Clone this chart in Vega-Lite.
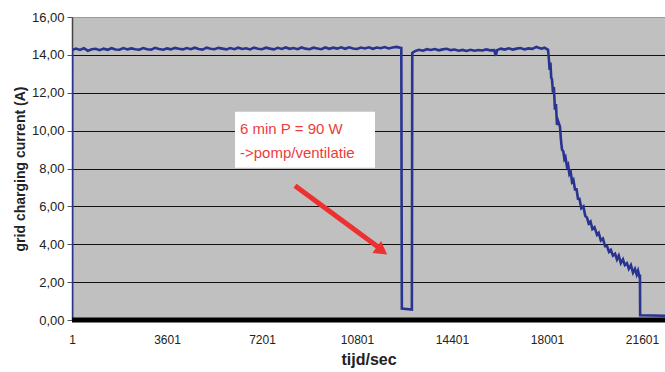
{
  "$schema": "https://vega.github.io/schema/vega-lite/v6.json",
  "width": 593,
  "height": 303,
  "autosize": {"type": "none"},
  "padding": {"left": 72, "top": 17, "right": 0, "bottom": 52},
  "background": "white",
  "config": {
    "font": "Liberation Sans",
    "view": {"fill": "#c0c0c0", "stroke": "#9a9a9a", "strokeWidth": 1},
    "locale": {"number": {"decimal": ",", "thousands": ".", "grouping": [3], "currency": ["€", ""]}}
  },
  "datasets": {
    "series": [
      {"t": 1, "a": 0}, {"t": 5, "a": 14.25}, {"t": 150, "a": 14.33}, {"t": 300, "a": 14.26}, {"t": 450, "a": 14.35}, {"t": 600, "a": 14.22}, {"t": 750, "a": 14.3}, {"t": 900, "a": 14.32},
      {"t": 1050, "a": 14.25}, {"t": 1200, "a": 14.33}, {"t": 1350, "a": 14.27}, {"t": 1500, "a": 14.35}, {"t": 1650, "a": 14.28}, {"t": 1800, "a": 14.27}, {"t": 1950, "a": 14.36}, {"t": 2100, "a": 14.29}, {"t": 2250, "a": 14.34}, {"t": 2400, "a": 14.3},
      {"t": 2550, "a": 14.27}, {"t": 2700, "a": 14.36}, {"t": 2850, "a": 14.3}, {"t": 3000, "a": 14.28}, {"t": 3150, "a": 14.37}, {"t": 3300, "a": 14.31}, {"t": 3450, "a": 14.27}, {"t": 3600, "a": 14.34}, {"t": 3750, "a": 14.29}, {"t": 3900, "a": 14.37},
      {"t": 4050, "a": 14.32}, {"t": 4200, "a": 14.29}, {"t": 4350, "a": 14.36}, {"t": 4500, "a": 14.3}, {"t": 4650, "a": 14.38}, {"t": 4800, "a": 14.31}, {"t": 4950, "a": 14.28}, {"t": 5100, "a": 14.38}, {"t": 5250, "a": 14.32}, {"t": 5400, "a": 14.3},
      {"t": 5550, "a": 14.37}, {"t": 5700, "a": 14.33}, {"t": 5850, "a": 14.29}, {"t": 6000, "a": 14.36}, {"t": 6150, "a": 14.3}, {"t": 6300, "a": 14.38}, {"t": 6450, "a": 14.31}, {"t": 6600, "a": 14.35}, {"t": 6750, "a": 14.29}, {"t": 6900, "a": 14.38},
      {"t": 7050, "a": 14.32}, {"t": 7200, "a": 14.3}, {"t": 7350, "a": 14.38}, {"t": 7500, "a": 14.33}, {"t": 7650, "a": 14.29}, {"t": 7800, "a": 14.37}, {"t": 7950, "a": 14.31}, {"t": 8100, "a": 14.39}, {"t": 8250, "a": 14.32}, {"t": 8400, "a": 14.36},
      {"t": 8550, "a": 14.3}, {"t": 8700, "a": 14.39}, {"t": 8850, "a": 14.33}, {"t": 9000, "a": 14.3}, {"t": 9150, "a": 14.38}, {"t": 9300, "a": 14.34}, {"t": 9450, "a": 14.3}, {"t": 9600, "a": 14.39}, {"t": 9750, "a": 14.32}, {"t": 9900, "a": 14.38},
      {"t": 10050, "a": 14.33}, {"t": 10200, "a": 14.4}, {"t": 10350, "a": 14.32}, {"t": 10500, "a": 14.4}, {"t": 10650, "a": 14.34}, {"t": 10800, "a": 14.31}, {"t": 10950, "a": 14.39}, {"t": 11100, "a": 14.34}, {"t": 11250, "a": 14.4}, {"t": 11400, "a": 14.32},
      {"t": 11550, "a": 14.39}, {"t": 11700, "a": 14.35}, {"t": 11850, "a": 14.41}, {"t": 12000, "a": 14.34}, {"t": 12150, "a": 14.39}, {"t": 12300, "a": 14.42}, {"t": 12480, "a": 14.36},
      {"t": 12500, "a": 0.6}, {"t": 12880, "a": 0.55}, {"t": 12895, "a": 14.1},
      {"t": 13000, "a": 14.2}, {"t": 13150, "a": 14.27}, {"t": 13300, "a": 14.22}, {"t": 13450, "a": 14.3}, {"t": 13600, "a": 14.26}, {"t": 13750, "a": 14.31}, {"t": 13900, "a": 14.24}, {"t": 14050, "a": 14.29}, {"t": 14200, "a": 14.32},
      {"t": 14350, "a": 14.25}, {"t": 14500, "a": 14.28}, {"t": 14650, "a": 14.22}, {"t": 14800, "a": 14.26}, {"t": 14950, "a": 14.21}, {"t": 15100, "a": 14.27}, {"t": 15250, "a": 14.22}, {"t": 15400, "a": 14.26}, {"t": 15550, "a": 14.23}, {"t": 15700, "a": 14.29},
      {"t": 15850, "a": 14.24}, {"t": 16000, "a": 14.25}, {"t": 16060, "a": 13.95}, {"t": 16110, "a": 14.25}, {"t": 16250, "a": 14.33}, {"t": 16400, "a": 14.28}, {"t": 16550, "a": 14.35}, {"t": 16700, "a": 14.28}, {"t": 16850, "a": 14.33},
      {"t": 17000, "a": 14.36}, {"t": 17150, "a": 14.29}, {"t": 17300, "a": 14.34}, {"t": 17450, "a": 14.32}, {"t": 17600, "a": 14.42}, {"t": 17700, "a": 14.36}, {"t": 17800, "a": 14.33}, {"t": 17900, "a": 14.38}, {"t": 18000, "a": 14.3},
      {"t": 18040, "a": 14.28}, {"t": 18076, "a": 13.7}, {"t": 18100, "a": 13.2}, {"t": 18130, "a": 13.6}, {"t": 18160, "a": 12.8},
      {"t": 18190, "a": 12.7}, {"t": 18228, "a": 12.0}, {"t": 18260, "a": 12.3}, {"t": 18303, "a": 11.1}, {"t": 18340, "a": 11.4},
      {"t": 18379, "a": 10.3}, {"t": 18420, "a": 10.5}, {"t": 18493, "a": 10.2}, {"t": 18530, "a": 9.5}, {"t": 18569, "a": 9.0},
      {"t": 18620, "a": 8.9}, {"t": 18660, "a": 8.5}, {"t": 18700, "a": 8.6}, {"t": 18758, "a": 8.1}, {"t": 18800, "a": 8.2},
      {"t": 18850, "a": 7.7}, {"t": 18900, "a": 7.8}, {"t": 18948, "a": 7.3}, {"t": 19000, "a": 7.4}, {"t": 19060, "a": 6.9},
      {"t": 19120, "a": 6.9}, {"t": 19175, "a": 6.4}, {"t": 19230, "a": 6.4}, {"t": 19300, "a": 5.9}, {"t": 19380, "a": 6.0},
      {"t": 19450, "a": 5.5}, {"t": 19516, "a": 5.4}, {"t": 19580, "a": 5.1}, {"t": 19650, "a": 5.2}, {"t": 19720, "a": 4.8},
      {"t": 19800, "a": 4.9}, {"t": 19895, "a": 4.5}, {"t": 19960, "a": 4.6}, {"t": 20040, "a": 4.2}, {"t": 20120, "a": 4.3},
      {"t": 20200, "a": 3.9}, {"t": 20274, "a": 3.9}, {"t": 20350, "a": 3.6}, {"t": 20420, "a": 3.7}, {"t": 20500, "a": 3.4},
      {"t": 20580, "a": 3.5}, {"t": 20652, "a": 3.2}, {"t": 20720, "a": 3.4}, {"t": 20800, "a": 3.0}, {"t": 20880, "a": 3.2},
      {"t": 20950, "a": 2.9}, {"t": 21031, "a": 3.0}, {"t": 21100, "a": 2.7}, {"t": 21180, "a": 2.9}, {"t": 21260, "a": 2.5},
      {"t": 21334, "a": 2.7}, {"t": 21400, "a": 2.4}, {"t": 21450, "a": 2.6}, {"t": 21500, "a": 2.3}, {"t": 21523, "a": 2.4},
      {"t": 21530, "a": 0.25}, {"t": 22500, "a": 0.22}
    ],
    "box": [{"x1": 6178, "x2": 11483, "y1": 11.0, "y2": 8.04}],
    "notes": [
      {"x": 6367, "y": 10.1, "label": "6 min P = 90 W"},
      {"x": 6367, "y": 8.84, "label": "->pomp/ventilatie"}
    ],
    "arrow": [{"x1": 8451, "y1": 7.09, "x2": 11600, "y2": 3.85}],
    "head": [{"x": 11680, "y": 3.72}],
    "base": [{"y": 0}]
  },
  "layer": [
    {
      "data": {"name": "series"},
      "mark": {"type": "line", "color": "#28348f", "strokeWidth": 2.6, "clip": true},
      "encoding": {
        "x": {
          "field": "t", "type": "quantitative",
          "scale": {"domain": [1, 22472], "nice": false, "zero": false},
          "axis": {
            "values": [1, 3601, 7201, 10801, 14401, 18001, 21601],
            "tickCount": 20,
            "format": "d", "grid": false, "ticks": false, "domain": false,
            "labelFontSize": 12, "labelColor": "#222", "labelPadding": 14, "labelFlush": false, "labelOverlap": false,
            "title": "tijd/sec", "titleFontSize": 16, "titleFontWeight": "bold", "titleColor": "#222", "titlePadding": 6
          }
        },
        "y": {
          "field": "a", "type": "quantitative",
          "scale": {"domain": [0, 16], "nice": false},
          "axis": {
            "values": [0, 2, 4, 6, 8, 10, 12, 14, 16],
            "tickCount": 20,
            "format": ".2f",
            "grid": true,
            "gridColor": {"condition": {"test": "datum.value == 16", "value": "#9a9a9a"}, "value": "#111"},
            "gridWidth": 1,
            "labelOverlap": false,
            "tickSize": 5, "tickColor": "#555", "domainColor": "#444", "domainWidth": 1.5,
            "labelFontSize": 13, "labelColor": "#222", "labelPadding": 3,
            "title": "grid charging current (A)", "titleFontSize": 14, "titleFontWeight": "bold", "titleColor": "#222", "titlePadding": 4
          }
        }
      }
    },
    {
      "data": {"name": "base"},
      "mark": {"type": "rule", "color": "#000", "strokeWidth": 5},
      "encoding": {"y": {"field": "y", "type": "quantitative"}}
    },
    {
      "data": {"name": "box"},
      "mark": {"type": "rect", "fill": "white"},
      "encoding": {
        "x": {"field": "x1", "type": "quantitative"}, "x2": {"field": "x2"},
        "y": {"field": "y1", "type": "quantitative"}, "y2": {"field": "y2"}
      }
    },
    {
      "data": {"name": "notes"},
      "mark": {"type": "text", "align": "left", "baseline": "middle", "fontSize": 15, "color": "#ee3b3b"},
      "encoding": {
        "x": {"field": "x", "type": "quantitative"},
        "y": {"field": "y", "type": "quantitative"},
        "text": {"field": "label"}
      }
    },
    {
      "data": {"name": "arrow"},
      "mark": {"type": "rule", "color": "#ee3030", "strokeWidth": 5},
      "encoding": {
        "x": {"field": "x1", "type": "quantitative"}, "x2": {"field": "x2"},
        "y": {"field": "y1", "type": "quantitative"}, "y2": {"field": "y2"}
      }
    },
    {
      "data": {"name": "head"},
      "mark": {"type": "point", "shape": "triangle", "filled": true, "color": "#ee3030", "opacity": 1, "size": 220, "angle": 126},
      "encoding": {
        "x": {"field": "x", "type": "quantitative"},
        "y": {"field": "y", "type": "quantitative"}
      }
    }
  ]
}
